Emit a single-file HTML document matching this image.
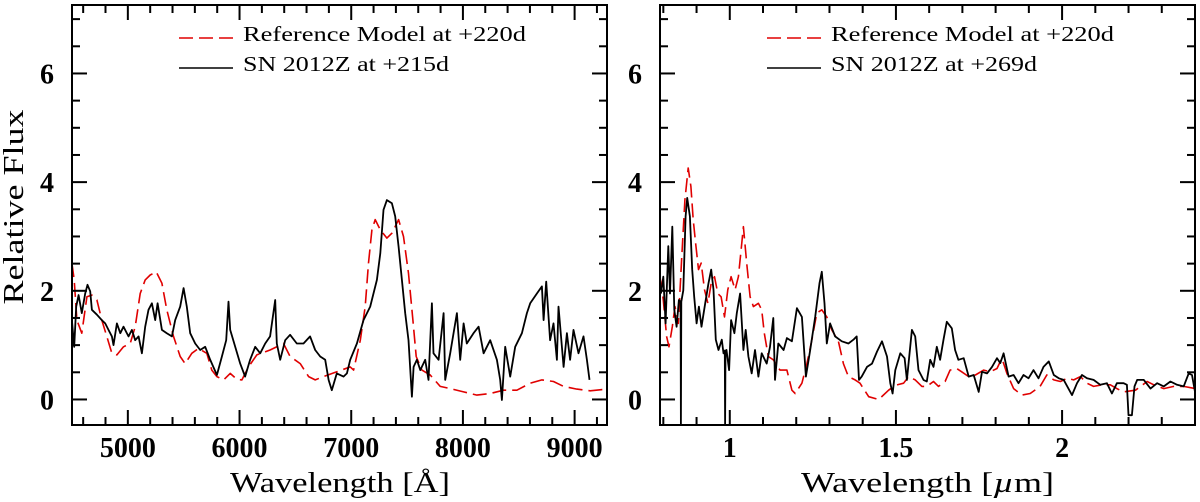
<!DOCTYPE html>
<html><head><meta charset="utf-8"><style>
html,body{margin:0;padding:0;background:#fff;}
svg{display:block;}
text{font-family:"Liberation Serif",serif;fill:#000;}
</style></head><body>
<svg id="chart" width="1200" height="502" viewBox="0 0 1200 502" xmlns="http://www.w3.org/2000/svg">
<defs>
<clipPath id="clipL"><rect x="72" y="5" width="535" height="420"/></clipPath>
<clipPath id="clipR"><rect x="660" y="5" width="535" height="420"/></clipPath>
</defs>
<g id="layer"></g>
</svg>
<script>
// Left panel data (wavelength Å, relative flux)
const leftObs = [[4499,1.46],[4520,0.97],[4538,1.71],[4559,1.92],[4588,1.59],[4618,1.95],[4639,2.11],[4663,1.99],[4678,1.65],[4723,1.56],[4767,1.46],[4797,1.40],[4827,1.28],[4857,1.16],[4872,1.0],[4902,1.40],[4932,1.22],[4961,1.34],[5006,1.16],[5036,1.28],[5066,1.09],[5096,1.16],[5126,0.85],[5155,1.34],[5185,1.65],[5215,1.77],[5245,1.46],[5266,1.77],[5305,1.28],[5349,1.22],[5394,1.16],[5424,1.46],[5469,1.71],[5499,2.05],[5528,1.71],[5558,1.22],[5603,1.03],[5648,0.91],[5693,0.97],[5737,0.73],[5797,0.45],[5842,0.79],[5881,1.09],[5901,1.80],[5916,1.28],[5961,0.97],[6006,0.66],[6050,0.42],[6095,0.73],[6140,0.97],[6185,0.85],[6230,1.03],[6274,1.16],[6319,1.83],[6334,1.03],[6364,0.73],[6409,1.09],[6453,1.19],[6513,1.03],[6573,1.03],[6632,1.16],[6677,0.91],[6722,0.79],[6767,0.73],[6797,0.36],[6826,0.17],[6871,0.48],[6931,0.42],[6961,0.48],[6991,0.73],[7051,1.03],[7110,1.46],[7170,1.71],[7230,2.20],[7260,2.69],[7289,3.49],[7319,3.67],[7364,3.61],[7394,3.37],[7424,2.81],[7454,2.20],[7483,1.59],[7513,1.09],[7543,0.05],[7558,0.60],[7588,0.73],[7618,0.54],[7662,0.73],[7692,0.36],[7722,1.77],[7737,0.85],[7782,0.73],[7827,1.59],[7841,0.36],[7886,0.85],[7946,1.59],[7976,0.73],[8006,1.40],[8035,1.03],[8095,1.22],[8140,1.34],[8185,0.85],[8244,1.09],[8304,0.73],[8334,0.36],[8349,-0.01],[8379,0.97],[8423,0.42],[8468,0.97],[8528,1.22],[8573,1.59],[8602,1.77],[8662,1.95],[8707,2.08],[8722,1.46],[8746,2.17],[8781,1.09],[8811,1.40],[8841,0.73],[8856,1.71],[8901,0.60],[8931,1.22],[8960,0.73],[8990,1.28],[9035,0.85],[9080,1.16],[9110,0.73],[9133,0.36]];
const leftModel = [[4499,2.51],[4520,2.20],[4544,1.46],[4588,1.22],[4633,1.89],[4678,1.92],[4723,1.83],[4767,1.46],[4812,1.16],[4857,0.85],[4902,0.82],[4961,0.97],[5021,1.03],[5066,1.34],[5111,1.95],[5155,2.20],[5200,2.29],[5254,2.35],[5305,2.14],[5349,1.65],[5409,1.16],[5469,0.79],[5513,0.66],[5573,0.85],[5633,0.94],[5707,0.85],[5752,0.54],[5797,0.42],[5857,0.36],[5916,0.48],[5976,0.37],[6021,0.36],[6080,0.60],[6155,0.82],[6274,0.91],[6394,1.03],[6453,0.79],[6543,0.66],[6618,0.42],[6677,0.36],[6752,0.42],[6871,0.51],[6991,0.60],[7021,0.54],[7081,1.09],[7125,1.71],[7155,2.51],[7185,3.12],[7215,3.31],[7260,3.12],[7319,2.97],[7364,3.06],[7424,3.31],[7468,3.00],[7513,2.32],[7552,1.46],[7582,0.79],[7633,0.54],[7707,0.45],[7797,0.24],[7886,0.20],[8006,0.14],[8125,0.08],[8244,0.11],[8364,0.17],[8483,0.17],[8602,0.30],[8707,0.36],[8811,0.33],[8901,0.24],[9020,0.19],[9140,0.16],[9289,0.19]];
// Right panel data (wavelength µm, relative flux)
const rightObs = [[0.793,1.95],[0.80,2.26],[0.807,1.40],[0.815,2.82],[0.820,1.95],[0.827,3.18],[0.833,1.65],[0.840,1.34],[0.847,1.83],[0.852,1.80],[0.853,-0.47],[0.854,1.80],[0.860,2.01],[0.867,3.37],[0.872,3.71],[0.880,3.37],[0.887,2.39],[0.893,1.89],[0.900,1.40],[0.907,1.71],[0.915,1.34],[0.926,1.77],[0.936,2.14],[0.944,2.39],[0.951,2.02],[0.958,1.10],[0.966,0.91],[0.976,1.10],[0.981,0.85],[0.985,0.9],[0.986,-0.47],[0.987,0.9],[0.990,0.91],[0.998,0.54],[1.004,1.46],[1.014,1.22],[1.021,1.59],[1.031,1.95],[1.041,0.91],[1.048,1.28],[1.056,0.79],[1.066,0.48],[1.076,0.91],[1.086,0.42],[1.096,0.85],[1.111,0.66],[1.121,0.97],[1.131,1.50],[1.136,0.36],[1.146,1.03],[1.162,0.91],[1.172,1.13],[1.187,1.07],[1.202,1.68],[1.217,1.52],[1.229,0.42],[1.242,0.91],[1.257,1.52],[1.270,2.14],[1.277,2.35],[1.285,1.77],[1.292,1.03],[1.302,1.40],[1.317,1.16],[1.337,1.07],[1.357,1.03],[1.372,1.10],[1.382,1.16],[1.389,0.36],[1.397,0.42],[1.413,0.60],[1.428,0.66],[1.443,0.88],[1.458,1.07],[1.473,0.79],[1.483,0.30],[1.490,0.11],[1.498,0.54],[1.513,0.85],[1.526,0.76],[1.533,0.36],[1.548,1.28],[1.558,1.16],[1.568,0.54],[1.583,0.36],[1.593,0.33],[1.603,0.73],[1.613,0.60],[1.623,0.97],[1.633,0.73],[1.643,1.10],[1.653,1.43],[1.668,1.31],[1.678,0.91],[1.688,0.73],[1.704,0.76],[1.719,0.42],[1.734,0.45],[1.749,0.14],[1.759,0.51],[1.774,0.48],[1.789,0.60],[1.804,0.76],[1.814,0.67],[1.824,0.85],[1.839,0.42],[1.854,0.45],[1.869,0.30],[1.884,0.45],[1.899,0.39],[1.914,0.54],[1.929,0.39],[1.944,0.60],[1.960,0.70],[1.975,0.45],[1.990,0.39],[2.005,0.36],[2.030,0.08],[2.045,0.30],[2.060,0.45],[2.075,0.39],[2.095,0.36],[2.115,0.27],[2.135,0.30],[2.150,0.11],[2.165,0.30],[2.185,0.30],[2.195,0.27],[2.200,-0.29],[2.210,-0.29],[2.218,0.24],[2.226,0.36],[2.246,0.36],[2.266,0.20],[2.286,0.30],[2.306,0.24],[2.326,0.33],[2.346,0.27],[2.366,0.24],[2.381,0.48],[2.391,0.45],[2.401,0.11]];
const rightModel = [[0.790,2.26],[0.80,1.83],[0.810,1.16],[0.817,0.97],[0.827,1.34],[0.835,1.71],[0.845,1.40],[0.855,2.57],[0.865,3.67],[0.875,4.26],[0.883,3.92],[0.890,3.31],[0.897,2.88],[0.906,2.39],[0.914,2.51],[0.924,2.02],[0.934,1.77],[0.944,2.14],[0.954,2.26],[0.964,1.95],[0.974,1.89],[0.984,1.52],[0.994,2.02],[1.004,2.26],[1.016,2.02],[1.026,2.26],[1.034,2.75],[1.041,3.18],[1.051,2.51],[1.061,1.89],[1.071,1.71],[1.086,1.77],[1.096,1.65],[1.104,1.22],[1.116,0.79],[1.131,0.73],[1.151,0.54],[1.172,0.54],[1.187,0.17],[1.197,0.11],[1.217,0.30],[1.232,0.66],[1.247,1.10],[1.262,1.59],[1.277,1.65],[1.292,1.52],[1.307,1.28],[1.327,1.07],[1.342,0.66],[1.357,0.42],[1.377,0.36],[1.392,0.30],[1.418,0.05],[1.448,0.00],[1.478,0.17],[1.498,0.26],[1.523,0.30],[1.538,0.42],[1.558,0.36],[1.578,0.24],[1.593,0.24],[1.613,0.33],[1.628,0.24],[1.648,0.33],[1.663,0.54],[1.683,0.57],[1.698,0.51],[1.719,0.42],[1.739,0.45],[1.764,0.54],[1.784,0.51],[1.804,0.57],[1.819,0.76],[1.834,0.48],[1.854,0.20],[1.879,0.08],[1.904,0.11],[1.934,0.24],[1.954,0.45],[1.975,0.36],[1.995,0.33],[2.015,0.39],[2.035,0.36],[2.055,0.42],[2.075,0.30],[2.095,0.24],[2.120,0.27],[2.145,0.27],[2.165,0.20],[2.185,0.14],[2.221,0.17],[2.256,0.33],[2.276,0.27],[2.306,0.20],[2.336,0.24],[2.366,0.24],[2.401,0.20]];
const yTickLabels = [0,2,4,6];
const leftXTicks = [5000,6000,7000,8000,9000];
const rightXTicks = [1,1.5,2];
const rightXTickLabels = ["1","1.5","2"];
const leftLegend = ["Reference Model at +220d","SN 2012Z at +215d"];
const rightLegend = ["Reference Model at +220d","SN 2012Z at +269d"];

const NS="http://www.w3.org/2000/svg";
const layer=document.getElementById('layer');
const Y0=5,Y1=425,YMIN=-0.47,YMAX=7.26;
function yS(v){return Y1-(v-YMIN)/(YMAX-YMIN)*(Y1-Y0);}
function mk(tag,attrs,parent){const e=document.createElementNS(NS,tag);for(const k in attrs)e.setAttribute(k,attrs[k]);(parent||layer).appendChild(e);return e;}

function panel(p){
  const xS=v=>p.x0+(v-p.xmin)/(p.xmax-p.xmin)*(p.x1-p.x0);
  const g=mk('g',{});
  
  
  const series=[[p.model,'#e00000','14 6',p.name+'-model-line',1.6],[p.obs,'#000','',p.name+'-observed-line',1.8]];
  series.forEach(s=>{
    const d=s[0].map((pt,i)=>(i?'L':'M')+xS(pt[0]).toFixed(1)+' '+yS(pt[1]).toFixed(1)).join('');
    const path=mk('path',{d:d,fill:'none',stroke:s[1],'stroke-width':s[4],'stroke-dasharray':s[2],'clip-path':'url(#'+p.clip+')','stroke-linejoin':'round'},g);
    
    
  });
  const fr=mk('rect',{x:p.x0,y:Y0,width:p.x1-p.x0,height:Y1-Y0,fill:'none',stroke:'#000','stroke-width':2},g);
  
  
  const yt=mk('g',{stroke:'#000','stroke-width':2},g);
  
  
  for(let v=0;v<=7.01;v+=0.5){
    const L=(Math.abs(v%2)<0.01)?15:8;const y=yS(v);
    mk('line',{x1:p.x0,x2:p.x0+L,y1:y,y2:y},yt);
    mk('line',{x1:p.x1,x2:p.x1-L,y1:y,y2:y},yt);
  }
  yTickLabels.forEach(v=>{
    const t=mk('text',{x:p.x0-18,y:yS(v)+10,'text-anchor':'end','font-size':28,'font-weight':'bold'},g);
    t.textContent=String(v);
    
    
  });
  const xt=mk('g',{stroke:'#000','stroke-width':2},g);
  
  
  for(let k=0;;k++){
    const v=p.minorStart+k*p.minor; if(v>p.xmax+1e-9)break;
    const major=p.majors.some(m=>Math.abs(m-v)<p.minor/10);
    const L=major?15:8;const x=xS(v);
    mk('line',{x1:x,x2:x,y1:Y1,y2:Y1-L},xt);
    mk('line',{x1:x,x2:x,y1:Y0,y2:Y0+L},xt);
  }
  p.majors.forEach((v,i)=>{
    const t=mk('text',{x:xS(v),y:457,'text-anchor':'middle','font-size':28,'font-weight':'bold'},g);
    t.textContent=p.majorLabels[i];
    
    
  });
  const lg=mk('g',{},g);
  
  
  const lx=p.legendX;
  mk('line',{x1:lx,x2:lx+54,y1:38,y2:38,stroke:'#e00000','stroke-width':1.6,'stroke-dasharray':'14 6'},lg);
  mk('line',{x1:lx,x2:lx+54,y1:68,y2:68,stroke:'#000','stroke-width':1.6},lg);
  const t1=mk('text',{x:lx+64,y:41,'font-size':21,textLength:283,lengthAdjust:'spacingAndGlyphs'},lg);
  t1.textContent=p.legend[0];
  
  
  const t2=mk('text',{x:lx+64,y:71,'font-size':21,textLength:206,lengthAdjust:'spacingAndGlyphs'},lg);
  t2.textContent=p.legend[1];
  
  
  const xtl=mk('text',{x:p.titleX,y:492,'font-size':29,textLength:p.titleW,lengthAdjust:'spacingAndGlyphs'},g);
  xtl.innerHTML=p.title;
  
  
}

panel({name:'left',x0:72,x1:607,xmin:4500,xmax:9290,clip:'clipL',obs:leftObs,model:leftModel,minorStart:4600,minor:200,majors:leftXTicks,majorLabels:leftXTicks.map(String),legend:leftLegend,legendX:179,title:'Wavelength [Å]',titleX:230,titleW:220});
panel({name:'right',x0:660,x1:1195,xmin:0.79,xmax:2.40,clip:'clipR',obs:rightObs,model:rightModel,minorStart:0.8,minor:0.1,majors:rightXTicks,majorLabels:rightXTickLabels,legend:rightLegend,legendX:767,title:'Wavelength [<tspan font-style="italic">µ</tspan>m]',titleX:801,titleW:253});

const yt=mk('text',{x:0,y:0,'font-size':29,'text-anchor':'middle',transform:'translate(23,207) rotate(-90)',textLength:195,lengthAdjust:'spacingAndGlyphs'});
yt.textContent='Relative Flux';


</script>
</body></html>
